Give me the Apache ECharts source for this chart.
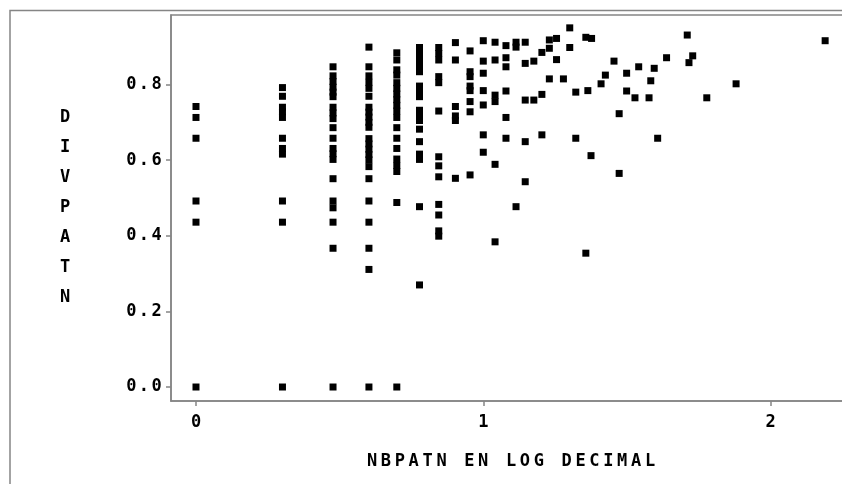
<!DOCTYPE html>
<html><head><meta charset="utf-8">
<script src="https://cdn.jsdelivr.net/npm/echarts@6/dist/echarts.min.js"></script>
<style>html,body{margin:0;padding:0;background:#fff}#c{width:842px;height:484px}</style>
</head><body><div id="c"></div>
<script>
// ---- data ----
const xTickValues = [0, 1, 2];
const yTickValues = [0, 0.2, 0.4, 0.6, 0.8];
const xTitle = 'NBPATN EN LOG DECIMAL';
const yTitle = 'DIVPATN';

// x positions of the dense columns (log10 of small counts)
const columnX = [0, 0.301, 0.477, 0.602, 0.699, 0.778, 0.845, 0.903, 0.954, 1.0,
                 1.041, 1.079, 1.114, 1.146, 1.176, 1.204, 1.230, 1.255, 1.279, 1.301, 1.322];
// DIVPATN values in each column
const columnY = [
  [0.742, 0.713, 0.658, 0.492, 0.436, 0],
  [0.792, 0.769, 0.740, 0.728, 0.713, 0.658, 0.631, 0.616, 0.492, 0.436, 0],
  [0.847, 0.823, 0.808, 0.793, 0.780, 0.768, 0.740, 0.725, 0.710, 0.686, 0.658, 0.631, 0.617, 0.602, 0.551, 0.492, 0.474, 0.436, 0.367, 0],
  [0.899, 0.847, 0.823, 0.806, 0.790, 0.769, 0.740, 0.727, 0.714, 0.700, 0.687, 0.657, 0.643, 0.629, 0.615, 0.601, 0.583, 0.551, 0.492, 0.436, 0.367, 0.311, 0],
  [0.884, 0.865, 0.839, 0.825, 0.805, 0.790, 0.775, 0.760, 0.745, 0.730, 0.713, 0.686, 0.658, 0.631, 0.603, 0.586, 0.570, 0.488, 0],
  [0.898, 0.882, 0.866, 0.850, 0.834, 0.796, 0.782, 0.768, 0.732, 0.718, 0.705, 0.682, 0.649, 0.616, 0.602, 0.477, 0.270],
  [0.898, 0.882, 0.865, 0.821, 0.805, 0.730, 0.609, 0.585, 0.556, 0.483, 0.455, 0.413, 0.399],
  [0.911, 0.865, 0.742, 0.717, 0.705, 0.552],
  [0.889, 0.834, 0.821, 0.796, 0.784, 0.755, 0.728, 0.561],
  [0.916, 0.862, 0.830, 0.784, 0.746, 0.667, 0.621],
  [0.912, 0.865, 0.772, 0.755, 0.589, 0.384],
  [0.903, 0.871, 0.847, 0.783, 0.713, 0.658],
  [0.912, 0.899, 0.477],
  [0.912, 0.856, 0.759, 0.649, 0.543],
  [0.862, 0.759],
  [0.885, 0.774, 0.667],
  [0.918, 0.896, 0.815],
  [0.922, 0.866],
  [0.815],
  [0.950, 0.898],
  [0.780, 0.658]
];
// scattered points on the right
const sparseX = [1.357, 1.377, 1.364, 1.375, 1.357, 1.410, 1.455, 1.425, 1.499, 1.499, 1.528, 1.541,
                 1.595, 1.583, 1.577, 1.638, 1.710, 1.729, 1.716, 1.778, 1.880, 2.190, 1.473, 1.607, 1.473];
const sparseY = [0.925, 0.922, 0.784, 0.612, 0.354, 0.802, 0.862, 0.825, 0.830, 0.783, 0.765, 0.847,
                 0.843, 0.810, 0.765, 0.871, 0.931, 0.876, 0.858, 0.765, 0.802, 0.916, 0.723, 0.658, 0.565];

// ---- build ----
const points = [];
columnX.forEach((x, i) => columnY[i].forEach(y => points.push([x, y])));
sparseX.forEach((x, i) => points.push([x, sparseY[i]]));

const FONT = 'DejaVu Sans Mono';
const GRAY = '#858585';
const FS = 17;
function spaced(s) { return s.split('').map(ch => '{c|' + ch + '}').join(''); }
function cellStyle(w) { return { width: w, align: 'center', fontFamily: FONT, fontWeight: 'bold', fontSize: FS, color: '#000' }; }

const X_MIN = -0.087, X_MAX = 2.28, Y_MIN = -0.037, Y_MAX = 0.984;

const chart = echarts.init(document.getElementById('c'), null, { renderer: 'canvas' });
chart.setOption({
  animation: false,
  backgroundColor: '#fff',
  grid: { left: 171, top: 15, width: 680, height: 386, show: true, borderColor: GRAY, borderWidth: 1.5,
          containLabel: false, outerBoundsMode: 'none' },
  graphic: [{ type: 'rect', silent: true, shape: { x: 10, y: 10.5, width: 900, height: 600 },
              style: { fill: 'none', stroke: GRAY, lineWidth: 1.5 } }],
  xAxis: {
    type: 'value', min: X_MIN, max: X_MAX,
    axisLine: { show: true, onZero: false, lineStyle: { color: GRAY, width: 1.5 } },
    axisTick: { show: true, length: 5, customValues: xTickValues, lineStyle: { color: GRAY, width: 1.5 } },
    axisLabel: { customValues: xTickValues, margin: 13, formatter: v => String(v),
                 fontFamily: FONT, fontWeight: 'bold', fontSize: FS, color: '#000' },
    splitLine: { show: false },
    name: spaced(xTitle), nameLocation: 'middle', nameGap: 61,
    nameTextStyle: { rich: { c: cellStyle(13.9) }, verticalAlign: 'middle' }
  },
  yAxis: {
    type: 'value', min: Y_MIN, max: Y_MAX,
    axisLine: { show: true, onZero: false, lineStyle: { color: GRAY, width: 1.5 } },
    axisTick: { show: true, length: 5, customValues: yTickValues, lineStyle: { color: GRAY, width: 1.5 } },
    axisLabel: { customValues: yTickValues, margin: 8, formatter: v => spaced(v.toFixed(1)),
                 rich: { c: cellStyle(12.7) } },
    splitLine: { show: false },
    name: yTitle.split('').join('\n'), nameLocation: 'middle', nameRotate: 0, nameGap: 106,
    nameTextStyle: { fontFamily: FONT, fontWeight: 'bold', fontSize: FS, lineHeight: 30, color: '#000',
                     align: 'center', verticalAlign: 'middle' }
  },
  series: [{
    type: 'scatter', data: points, symbol: 'rect', symbolSize: 7,
    itemStyle: { color: '#000', opacity: 1 }, emphasis: { disabled: true }
  }]
});
</script>
</body></html>
